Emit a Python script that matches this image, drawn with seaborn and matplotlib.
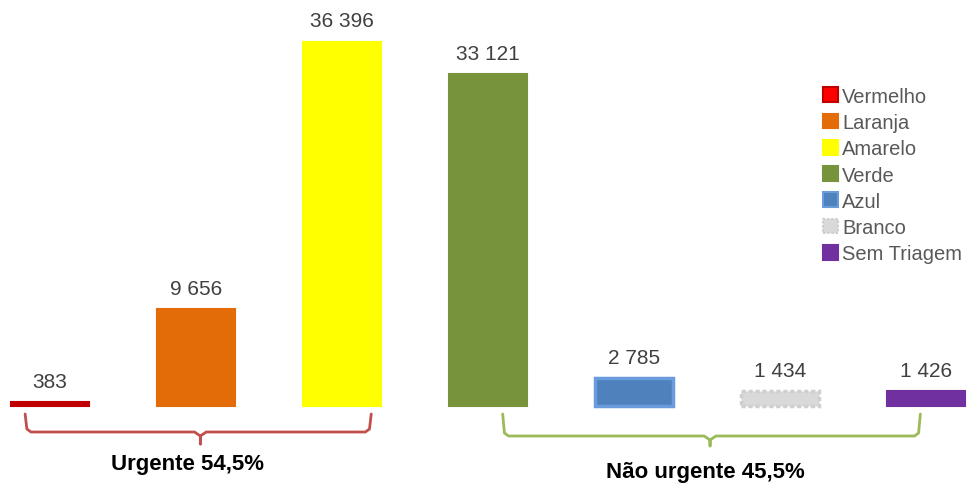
import numpy as np
import pandas as pd
import matplotlib.pyplot as plt
import seaborn as sns
from matplotlib.patches import Patch

# dados
categorias = ["Vermelho", "Laranja", "Amarelo", "Verde", "Azul", "Branco", "Sem Triagem"]
valores = [383, 9656, 36396, 33121, 2785, 1434, 1426]
rotulos = ["383", "9 656", "36 396", "33 121", "2 785", "1 434", "1 426"]
cores = ["#C00000", "#E36C09", "#FFFF00", "#77933C", "#4F81BD", "#D9D9D9", "#7030A0"]
bordas = ["#C00000", "#E36C09", "#FFFF00", "#77933C", "#6A9BDC", "#CFCFCF", "#7030A0"]
grupos = [("Urgente 54,5%", 0, 2, "#C0504D"), ("Não urgente 45,5%", 3, 6, "#9BBB59")]

sns.set_theme(style="white")
plt.rcParams['font.family'] = ['Liberation Sans Narrow', 'Liberation Sans', 'DejaVu Sans']

df = pd.DataFrame({"cat": categorias, "val": valores})

fig = plt.figure(figsize=(9.7, 4.89), dpi=100)
ax = fig.add_axes([0, 0, 1, 1])
sns.barplot(data=df, x="cat", y="val", hue="cat", palette=cores, width=0.53,
            saturation=1, legend=False, ax=ax, linewidth=0)

for i, p in enumerate(ax.patches):
    p.set_edgecolor(bordas[i])
    p.set_linewidth(1.5 if categorias[i] not in ("Azul", "Branco") else 2.5)
    if categorias[i] == "Branco":
        p.set_linestyle((0, (1.2, 0.8)))
    ax.annotate(rotulos[i], (p.get_x() + p.get_width() / 2, p.get_height()),
                xytext=(0, 8), textcoords="offset points", ha="center", va="bottom",
                fontsize=15, color="#404040")

# escala: ~100 unidades por pixel
upp = 100.0
ax.set_xlim(-0.342, 6.30)
ax.set_ylim(-82.5 * upp, 406.5 * upp)
ax.axis("off")

# chaves dos grupos
def chave(x0, x1, xc, ytop, ymid, ybot, cor):
    r = 0.04
    xs = [x0, x0 + r * 0.3, x0 + r, xc - r, xc, xc, xc, xc + r, x1 - r, x1 - r * 0.3, x1]
    ys = [ytop, ymid + 300, ymid, ymid, ymid - 400, ybot, ymid - 400, ymid, ymid, ymid + 300, ytop]
    ax.plot(xs, ys, color=cor, lw=2, solid_joinstyle="round", solid_capstyle="round")

chave(-0.17, 2.2, 1.03, -8.5 * upp, -26.5 * upp, -38.5 * upp, grupos[0][3])
chave(3.1, 5.96, 4.52, -8.5 * upp, -30.5 * upp, -40.5 * upp, grupos[1][3])

ax.text(0.94, -58.5 * upp, grupos[0][0], ha="center", va="center", fontsize=16,
        fontweight="bold", color="black")
ax.text(4.49, -66.5 * upp, grupos[1][0], ha="center", va="center", fontsize=16,
        fontweight="bold", color="black")

# legenda
handles = []
for c, b, n in zip(cores, bordas, categorias):
    h = Patch(facecolor=c if n != "Vermelho" else "#FF0000", edgecolor=b, linewidth=1.5, label=n)
    if n == "Branco":
        h.set_linestyle((0, (1.2, 0.8)))
    handles.append(h)
leg = ax.legend(handles=handles, loc="upper left", bbox_to_anchor=(0.84, 0.837),
                frameon=False, fontsize=14.5, handlelength=0.75, handleheight=0.75,
                handletextpad=0.2, labelspacing=0.36, borderaxespad=0)
for t in leg.get_texts():
    t.set_color("#595959")

fig.savefig("out.png", dpi=100)
